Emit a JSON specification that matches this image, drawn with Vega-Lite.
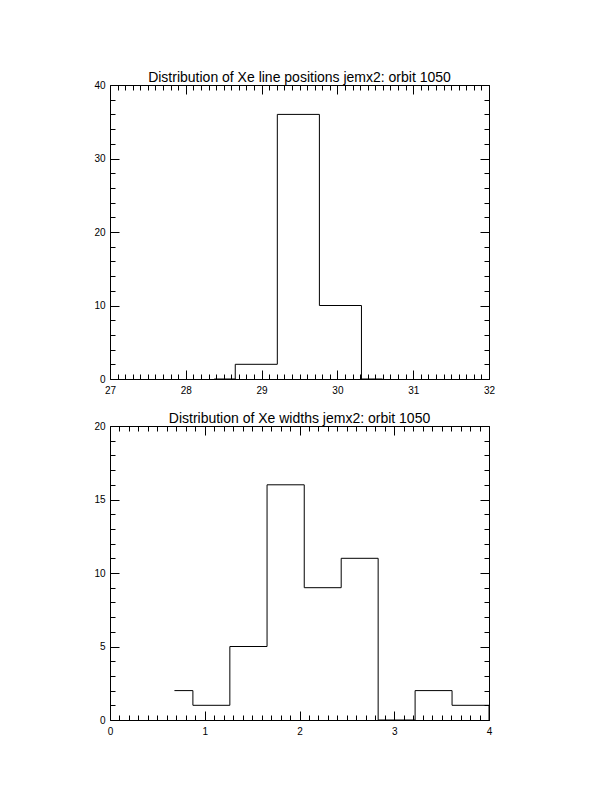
{
  "$schema": "https://vega.github.io/schema/vega-lite/v6.json",
  "background": "white",
  "padding": {"left": 93, "top": 70, "right": 5, "bottom": 5},
  "spacing": 15,
  "config": {
    "view": {"stroke": "black", "strokeWidth": 1, "fill": "white"},
    "axis": {"domain": false, "grid": false, "tickColor": "black", "tickWidth": 1, "labelColor": "black", "labelFont": "Liberation Sans", "labelFontSize": 10, "labelFlush": false, "labelOverlap": false, "title": null},
    "title": {"font": "Liberation Sans", "fontSize": 14, "fontWeight": "normal", "color": "black", "frame": "group", "anchor": "middle", "offset": -5}
  },
  "datasets": {
    "pos": [
      {"x": 28.375, "n": 0},
      {"x": 28.93, "n": 2},
      {"x": 29.485, "n": 36},
      {"x": 30.04, "n": 10},
      {"x": 30.595, "n": 0}
    ],
    "wid": [
      {"x": 0.68, "n": 2},
      {"x": 1.07, "n": 1},
      {"x": 1.46, "n": 5},
      {"x": 1.855, "n": 16},
      {"x": 2.245, "n": 9},
      {"x": 2.635, "n": 11},
      {"x": 3.025, "n": 0},
      {"x": 3.415, "n": 2},
      {"x": 3.805, "n": 1},
      {"x": 4.195, "n": 0}
    ]
  },
  "vconcat": [
    {
      "width": 379,
      "height": 294,
      "title": "Distribution of Xe line positions jemx2: orbit 1050",
      "data": {"name": "pos"},
      "resolve": {"axis": {"x": "independent", "y": "independent"}},
      "layer": [
        {
          "mark": {"type": "line", "interpolate": "step", "clip": true, "color": "black", "strokeWidth": 1},
          "encoding": {
            "x": {"field": "x", "type": "quantitative", "scale": {"domain": [27, 32], "nice": false, "zero": false},
                  "axis": {"orient": "bottom", "values": [27, 28, 29, 30, 31, 32], "tickSize": -9, "labelPadding": 15}},
            "y": {"field": "n", "type": "quantitative", "scale": {"domain": [0, 40], "nice": false},
                  "axis": {"orient": "left", "values": [0, 10, 20, 30, 40], "tickSize": -9, "labelPadding": 14}}
          }
        },
        {
          "mark": {"type": "line", "interpolate": "step", "clip": true, "opacity": 0},
          "encoding": {
            "x": {"field": "x", "type": "quantitative",
                  "axis": {"orient": "bottom", "labels": false, "tickSize": -5, "values": [27.1,27.2,27.3,27.4,27.5,27.6,27.7,27.8,27.9,28.1,28.2,28.3,28.4,28.5,28.6,28.7,28.8,28.9,29.1,29.2,29.3,29.4,29.5,29.6,29.7,29.8,29.9,30.1,30.2,30.3,30.4,30.5,30.6,30.7,30.8,30.9,31.1,31.2,31.3,31.4,31.5,31.6,31.7,31.8,31.9]}},
            "y": {"field": "n", "type": "quantitative",
                  "axis": {"orient": "left", "labels": false, "tickSize": -5, "values": [2,4,6,8,12,14,16,18,22,24,26,28,32,34,36,38]}}
          }
        },
        {
          "mark": {"type": "line", "interpolate": "step", "clip": true, "opacity": 0},
          "encoding": {
            "x": {"field": "x", "type": "quantitative",
                  "axis": {"orient": "top", "labels": false, "tickSize": -9, "values": [27, 28, 29, 30, 31, 32]}},
            "y": {"field": "n", "type": "quantitative",
                  "axis": {"orient": "right", "labels": false, "tickSize": -9, "values": [0, 10, 20, 30, 40]}}
          }
        },
        {
          "mark": {"type": "line", "interpolate": "step", "clip": true, "opacity": 0},
          "encoding": {
            "x": {"field": "x", "type": "quantitative",
                  "axis": {"orient": "top", "labels": false, "tickSize": -5, "values": [27.1,27.2,27.3,27.4,27.5,27.6,27.7,27.8,27.9,28.1,28.2,28.3,28.4,28.5,28.6,28.7,28.8,28.9,29.1,29.2,29.3,29.4,29.5,29.6,29.7,29.8,29.9,30.1,30.2,30.3,30.4,30.5,30.6,30.7,30.8,30.9,31.1,31.2,31.3,31.4,31.5,31.6,31.7,31.8,31.9]}},
            "y": {"field": "n", "type": "quantitative",
                  "axis": {"orient": "right", "labels": false, "tickSize": -5, "values": [2,4,6,8,12,14,16,18,22,24,26,28,32,34,36,38]}}
          }
        }
      ]
    },
    {
      "width": 379,
      "height": 294,
      "title": "Distribution of Xe widths jemx2: orbit 1050",
      "data": {"name": "wid"},
      "resolve": {"axis": {"x": "independent", "y": "independent"}},
      "layer": [
        {
          "mark": {"type": "line", "interpolate": "step", "clip": true, "color": "black", "strokeWidth": 1},
          "encoding": {
            "x": {"field": "x", "type": "quantitative", "scale": {"domain": [0, 4], "nice": false, "zero": false},
                  "axis": {"orient": "bottom", "values": [0, 1, 2, 3, 4], "tickSize": -9, "labelPadding": 15}},
            "y": {"field": "n", "type": "quantitative", "scale": {"domain": [0, 20], "nice": false},
                  "axis": {"orient": "left", "values": [0, 5, 10, 15, 20], "tickSize": -9, "labelPadding": 14}}
          }
        },
        {
          "mark": {"type": "line", "interpolate": "step", "clip": true, "opacity": 0},
          "encoding": {
            "x": {"field": "x", "type": "quantitative",
                  "axis": {"orient": "bottom", "labels": false, "tickSize": -5, "values": [0.1,0.2,0.3,0.4,0.5,0.6,0.7,0.8,0.9,1.1,1.2,1.3,1.4,1.5,1.6,1.7,1.8,1.9,2.1,2.2,2.3,2.4,2.5,2.6,2.7,2.8,2.9,3.1,3.2,3.3,3.4,3.5,3.6,3.7,3.8,3.9]}},
            "y": {"field": "n", "type": "quantitative",
                  "axis": {"orient": "left", "labels": false, "tickSize": -5, "values": [1,2,3,4,6,7,8,9,11,12,13,14,16,17,18,19]}}
          }
        },
        {
          "mark": {"type": "line", "interpolate": "step", "clip": true, "opacity": 0},
          "encoding": {
            "x": {"field": "x", "type": "quantitative",
                  "axis": {"orient": "top", "labels": false, "tickSize": -9, "values": [0, 1, 2, 3, 4]}},
            "y": {"field": "n", "type": "quantitative",
                  "axis": {"orient": "right", "labels": false, "tickSize": -9, "values": [0, 5, 10, 15, 20]}}
          }
        },
        {
          "mark": {"type": "line", "interpolate": "step", "clip": true, "opacity": 0},
          "encoding": {
            "x": {"field": "x", "type": "quantitative",
                  "axis": {"orient": "top", "labels": false, "tickSize": -5, "values": [0.1,0.2,0.3,0.4,0.5,0.6,0.7,0.8,0.9,1.1,1.2,1.3,1.4,1.5,1.6,1.7,1.8,1.9,2.1,2.2,2.3,2.4,2.5,2.6,2.7,2.8,2.9,3.1,3.2,3.3,3.4,3.5,3.6,3.7,3.8,3.9]}},
            "y": {"field": "n", "type": "quantitative",
                  "axis": {"orient": "right", "labels": false, "tickSize": -5, "values": [1,2,3,4,6,7,8,9,11,12,13,14,16,17,18,19]}}
          }
        }
      ]
    }
  ]
}
